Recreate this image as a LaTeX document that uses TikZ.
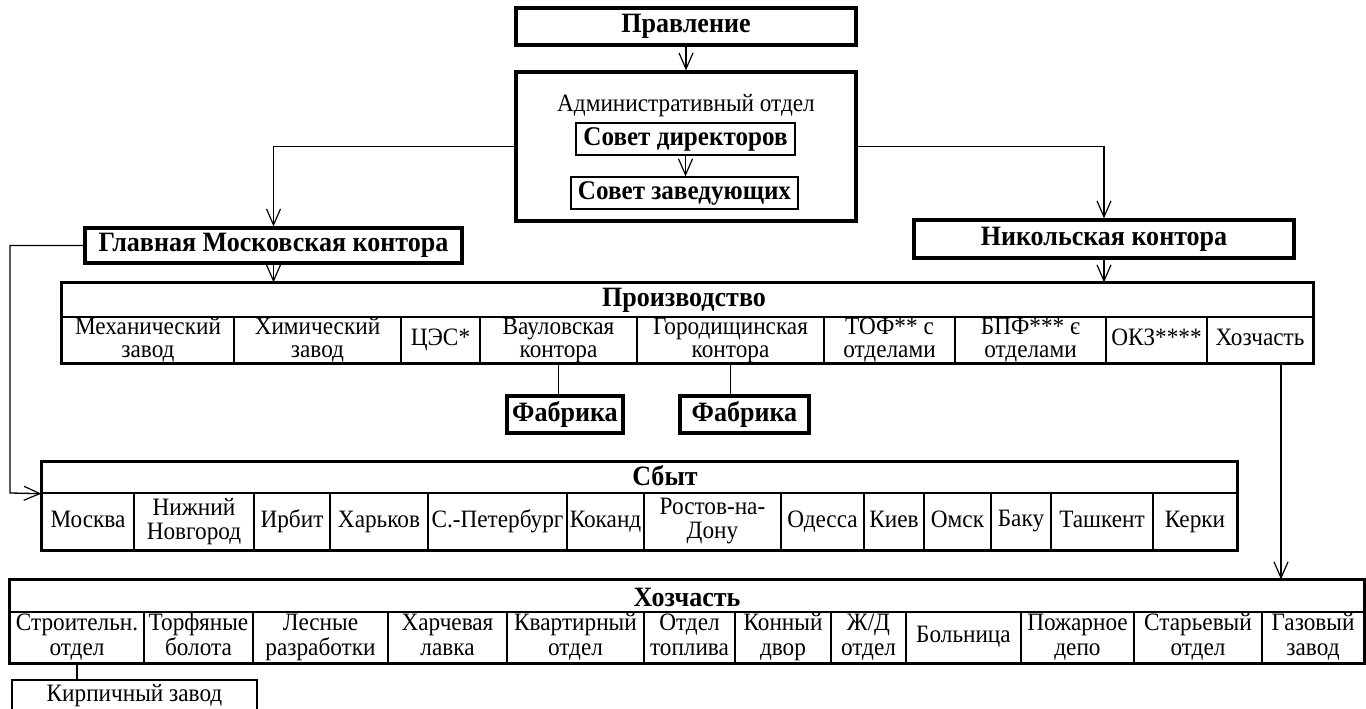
\documentclass[tikz,border=0pt]{standalone}
\usepackage{fontspec}
\setmainfont{Liberation Serif}[FakeStretch=0.93]
\usetikzlibrary{arrows.meta}

\tikzset{
	thickbox/.style={draw, line width=3.2pt, inner sep=0pt, font=\bfseries\fontsize{28}{30}\selectfont},
	thinbox/.style={draw, line width=1.3pt, inner sep=0pt, font=\bfseries\fontsize{27}{29}\selectfont},
	cell/.style={draw, line width=1.3pt, inner sep=0pt, align=center,
		execute at begin node=\cstrut, execute at end node=\cstrut},
	title/.style={inner sep=0pt, font=\bfseries\fontsize{28}{30}\selectfont},
	arr/.style={-{Straight Barb[length=16pt,width=14pt,line width=1.2pt]}, line width=1.3pt},
	ln/.style={line width=1.3pt},
}
\newcommand{\txtfont}[1]{\fontsize{25}{#1}\selectfont}
\newcommand{\cstrut}{\rule[-.22\baselineskip]{0pt}{.78\baselineskip}}

\begin{document}
\begin{tikzpicture}[x=1pt,y=-1pt]
	\useasboundingbox (0,0) rectangle (1366,709);

	\node [thickbox, minimum width=340, minimum height=37] (prav) at (686,26.5) {Правление};
	\node [thickbox, minimum width=340, minimum height=149] (adm) at (686,146.5) {};
	\node [font=\txtfont{27}] (admt) at (686,106) {Административный отдел};
	\node [thinbox, minimum width=219, minimum height=32] (sdir) at (685.5,139) {Совет директоров};
	\node [thinbox, minimum width=227, minimum height=32] (szav) at (684.5,193) {Совет заведующих};
	\draw [arr] (prav.south) -- (prav.south |- adm.north);
	\draw [arr] (sdir.south) -- (sdir.south |- szav.north);

	\node [thickbox, minimum width=377, minimum height=35] (glav) at (273.5,245.5) {Главная Московская контора};
	\node [thickbox, minimum width=380, minimum height=38] (nik) at (1104,239) {Никольская контора};
	\draw [arr] (adm.west) -| (glav.north);
	\draw [arr] (adm.east) -| (nik.north);

	% production
	\foreach \l/\r/\lbl [count=\i] in {62/234/{Механический\\завод}, 234/401/{Химический\\завод},
		401/480/{ЦЭС*}, 480/637/{Вауловская\\контора}, 637/824/{Городищинская\\контора},
		824/955/{ТОФ** с\\отделами}, 955/1106/{БПФ*** є\\отделами}, 1106/1207/{ОКЗ****},
		1207/1313/{Хозчасть}}
		\node [cell, minimum width=\r-\l, minimum height=46, font=\txtfont{23}] (p\i) at ({(\l+\r)/2},340) {\lbl};
	\node [cell, minimum width=1251, minimum height=34] (prod) at (687.5,300) {};
	\node [title] (prodt) at (684,300) {Производство};
	\draw [line width=3.2pt] (prod.north west) rectangle (p9.south east);
	\draw [arr] (glav.south) -- (glav.south |- prod.north);
	\draw [arr] (nik.south) -- (nik.south |- prod.north);

	\node [thickbox, minimum width=116, minimum height=37] (fab1) at (565,414.5) {Фабрика};
	\node [thickbox, minimum width=129, minimum height=37] (fab2) at (744.5,414.5) {Фабрика};
	\draw [ln] (p4.south) -- (p4.south |- fab1.north);
	\draw [ln] (p5.south) -- (p5.south |- fab2.north);

	% sales
	\foreach \l/\r/\lbl [count=\i] in {42/134/{Москва}, 134/254/{Нижний\\Новгород}, 254/330/{Ирбит},
		330/428/{Харьков}, 428/567/{С.-Петербург}, 567/644/{Коканд}, 644/781/{Ростов-на-\\Дону},
		781/864/{Одесса}, 864/924/{Киев}, 924/991/{Омск}, 991/1051/{Баку}, 1051/1153/{Ташкент},
		1153/1237/{Керки}}
		\node [cell, minimum width=\r-\l, minimum height=57, font=\txtfont{24}] (s\i) at ({(\l+\r)/2},521.5) {\lbl};
	\node [cell, minimum width=1195, minimum height=31] (sbyt) at (639.5,477.5) {};
	\node [title] (sbytt) at (665,476) {Сбыт};
	\draw [line width=3.2pt] (sbyt.north west) rectangle (s13.south east);
	\coordinate (lft) at (10,493);
	\draw [arr] (glav.west) -| (lft) -- (sbyt.south west);

	% household
	\foreach \l/\r/\lbl [count=\i] in {10/144/{Строительн.\\отдел}, 144/253/{Торфяные\\болота},
		253/388/{Лесные\\разработки}, 388/507/{Харчевая\\лавка}, 507/644/{Квартирный\\отдел},
		644/735/{Отдел\\топлива}, 735/831/{Конный\\двор}, 831/906/{Ж/Д\\отдел}, 906/1021/{Больница},
		1021/1134/{Пожарное\\депо}, 1134/1262/{Старьевый\\отдел}, 1262/1364/{Газовый\\завод}}
		\node [cell, minimum width=\r-\l, minimum height=51, font=\txtfont{25}] (h\i) at ({(\l+\r)/2},637.5) {\lbl};
	\node [cell, minimum width=1354, minimum height=32] (hoz) at (687,596) {};
	\node [title] (hozt) at (687,597) {Хозчасть};
	\draw [line width=3.2pt] (hoz.north west) rectangle (h12.south east);
	\draw [arr] ([xshift=21pt]p9.south) -- ([xshift=21pt]p9.south |- hoz.north);

	\node [cell, minimum width=245, minimum height=31, font=\txtfont{25}] (kirp) at (134.5,695.5) {Кирпичный завод};
	\draw [ln] (h1.south) -- (h1.south |- kirp.north);
\end{tikzpicture}
\end{document}
